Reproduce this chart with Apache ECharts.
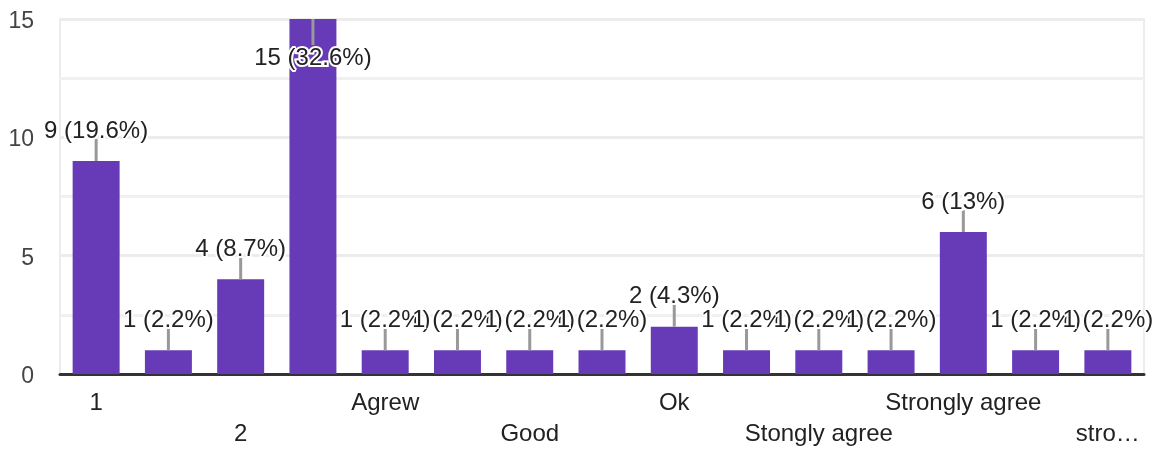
<!DOCTYPE html>
<html>
<head>
<meta charset="utf-8">
<script src="https://cdn.jsdelivr.net/npm/echarts@6/dist/echarts.min.js"></script>
<style>
  html, body { margin: 0; padding: 0; background: #fff; }
  #chart { width: 1152px; height: 450px; }
</style>
</head>
<body>
<div id="chart"></div>
<script>
// Response categories and counts
const categories = ['1', '10', '2', 'Agree', 'Agrew', 'Disagree', 'Good', 'Neutral', 'Ok',
  'Satisfied', 'Stongly agree', 'Strongly Agree', 'Strongly agree', 'agree', 'strongly agree'];
const counts = [9, 1, 4, 15, 1, 1, 1, 1, 2, 1, 1, 1, 6, 1, 1];
const yTicks = [0, 5, 10, 15];

const total = counts.reduce((a, b) => a + b, 0);
const yMax = yTicks[yTicks.length - 1];
const FONT = '"Liberation Sans", Arial, sans-serif';
const LEAD = 22;    // leader line length above a bar
const LEAD_IN = 26; // leader line length when the label sits inside a full-height bar

function pct(v) {
  const p = Math.round(v / total * 1000) / 10;
  return v + ' (' + p + '%)';
}

const barData = counts.map(v => {
  const item = { value: v };
  if (v >= yMax) {
    item.label = { position: 'insideTop', distance: LEAD_IN + 1 };
  }
  return item;
});

const chart = echarts.init(document.getElementById('chart'), null, { renderer: 'canvas' });

chart.setOption({
  animation: false,
  grid: {
    left: 60, right: 8, top: 19, bottom: 73,
    show: true, borderColor: '#ececec', borderWidth: 2
  },
  xAxis: {
    type: 'category',
    data: categories,
    axisTick: { show: false },
    axisLine: { lineStyle: { color: '#333', width: 3 } },
    axisLabel: {
      interval: 1,
      margin: 14,
      color: '#222',
      fontFamily: FONT,
      fontSize: 24,
      lineHeight: 31,
      formatter: (value, index) => {
        let text = value;
        if (index === categories.length - 1) text = value.slice(0, 4) + '…';
        return (index % 4 === 2) ? '\n' + text : text;
      }
    }
  },
  yAxis: {
    type: 'value',
    min: 0,
    max: yMax,
    interval: 5,
    axisLine: { show: false },
    axisTick: { show: false },
    axisLabel: {
      margin: 26, color: '#444', fontFamily: FONT, fontSize: 23,
      verticalAlign: 'top', lineHeight: 23, padding: [-9, 0, 0, 0]
    },
    splitLine: { lineStyle: { color: '#ececec', width: 3 } },
    minorTick: { show: false, splitNumber: 2 },
    minorSplitLine: { show: true, lineStyle: { color: '#f0f0f0', width: 3 } }
  },
  series: [
    {
      type: 'bar',
      data: barData,
      barCategoryGap: '35%',
      itemStyle: { color: '#673ab7' },
      z: 2
    },
    {
      // leader lines joining each bar to its label
      type: 'custom',
      data: counts.map((v, i) => [i, v]),
      z: 3,
      silent: true,
      renderItem: (params, api) => {
        const p = api.coord([api.value(0), api.value(1)]);
        const inside = api.value(1) >= yMax;
        const y2 = inside ? p[1] + LEAD_IN : p[1] - LEAD;
        return {
          type: 'line',
          shape: { x1: p[0], y1: p[1], x2: p[0], y2: y2 },
          style: { stroke: '#999', lineWidth: 3 }
        };
      }
    },
    {
      // value labels with a white halo
      type: 'bar',
      data: barData,
      barGap: '-100%',
      barCategoryGap: '35%',
      itemStyle: { color: 'transparent' },
      z: 4,
      silent: true,
      label: {
        show: true,
        position: 'top',
        distance: LEAD - 4,
        color: '#222',
        fontFamily: FONT,
        fontSize: 24,
        lineHeight: 24,
        textBorderColor: '#fff',
        textBorderWidth: 4,
        formatter: p => pct(p.value)
      }
    }
  ]
});
</script>
</body>
</html>
